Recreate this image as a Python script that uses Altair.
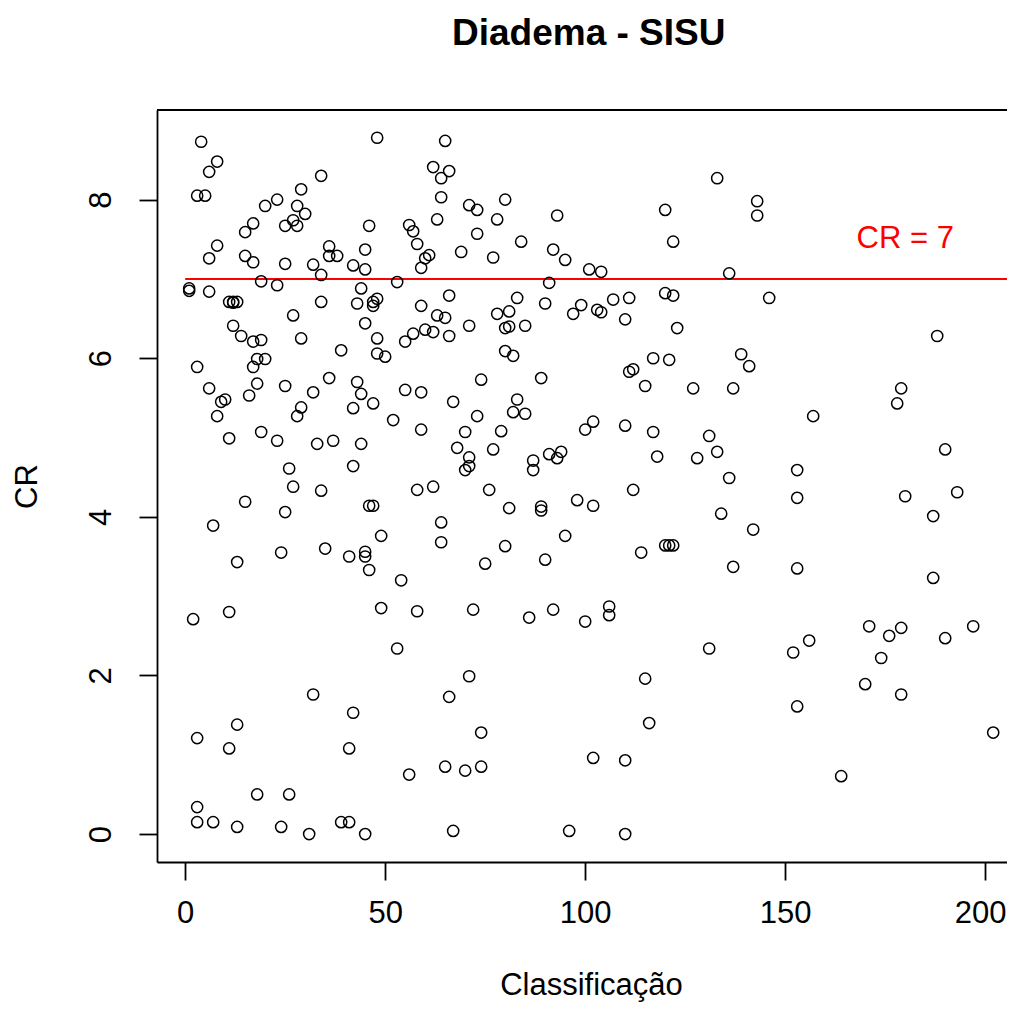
import altair as alt
import pandas as pd

# Classificação (x) and CR (y) values, grouped by region
x_a = [4, 8, 6, 34, 3, 5, 29, 23, 20, 28, 30, 27, 28, 25, 17, 15, 8, 6, 15, 17, 25, 36, 36, 38, 32, 34, 42, 45, 45, 46,
       1, 1, 6, 19, 23, 44, 11, 12, 12, 13, 34, 43, 27, 45, 12, 14, 17, 19, 29, 39, 18, 20, 3, 17]
y_a = [8.73, 8.48, 8.35, 8.30, 8.05, 8.05, 8.13, 8.00, 7.92, 7.92, 7.82, 7.74, 7.67, 7.67, 7.70, 7.59, 7.42, 7.26, 7.29,
       7.21, 7.19, 7.41, 7.29, 7.29, 7.18, 7.05, 7.17, 7.37, 7.12, 7.67, 6.85, 6.88, 6.84, 6.97, 6.92, 6.88, 6.71, 6.71,
       6.70, 6.71, 6.71, 6.69, 6.54, 6.44, 6.41, 6.28, 6.21, 6.23, 6.25, 6.10, 5.99, 5.99, 5.89, 5.89]

x_b = [6, 18, 16, 25, 32, 36, 43, 44, 42, 9, 10, 8, 29, 28, 11, 19, 23, 33, 37, 44, 26, 42, 27, 34, 15, 25, 7, 24, 35,
       41, 45, 45, 46, 13, 2, 11]
y_b = [5.62, 5.68, 5.53, 5.65, 5.57, 5.75, 5.70, 5.55, 5.37, 5.45, 5.48, 5.27, 5.38, 5.27, 4.99, 5.07, 4.96, 4.92, 4.96,
       4.92, 4.61, 4.64, 4.38, 4.33, 4.19, 4.06, 3.89, 3.55, 3.60, 3.50, 3.56, 3.50, 3.33, 3.43, 2.71, 2.80]

x_c = [32, 42, 13, 3, 11, 41, 18, 26, 3, 3, 7, 13, 24, 31, 39, 41, 45]
y_c = [1.76, 1.53, 1.38, 1.21, 1.08, 1.08, 0.50, 0.50, 0.34, 0.15, 0.15, 0.09, 0.09, 0.00, 0.15, 0.15, 0.00]

x_d = [48, 65, 62, 66, 64, 64, 80, 71, 73, 93, 63, 78, 56, 57, 58, 73, 84, 69, 61, 60, 59, 77, 92, 95, 53, 91, 47, 48,
       47, 66, 59, 63, 65, 83, 81, 78, 90, 97, 48, 60, 62, 57, 55, 66, 71, 81, 80, 85, 48, 50, 80, 82]
y_d = [8.78, 8.74, 8.41, 8.36, 8.27, 8.03, 8.00, 7.93, 7.87, 7.80, 7.75, 7.75, 7.68, 7.60, 7.44, 7.57, 7.47, 7.34, 7.30,
       7.26, 7.14, 7.27, 7.37, 7.24, 6.96, 6.95, 6.71, 6.75, 6.66, 6.79, 6.66, 6.54, 6.51, 6.76, 6.59, 6.56, 6.69, 6.56,
       6.25, 6.36, 6.33, 6.31, 6.21, 6.28, 6.41, 6.40, 6.38, 6.41, 6.06, 6.02, 6.09, 6.03]

x_e = [47, 55, 59, 52, 59, 67, 74, 73, 70, 68, 71, 71, 70, 89, 83, 82, 85, 79, 77, 87, 87, 91, 94, 93, 58, 62, 76, 46,
       47, 81, 89, 89, 64, 49, 64, 80, 75, 95, 90, 54, 49, 58, 72, 86, 92]
y_e = [5.43, 5.60, 5.57, 5.22, 5.10, 5.45, 5.73, 5.27, 5.07, 4.87, 4.75, 4.64, 4.59, 5.75, 5.48, 5.32, 5.30, 5.08, 4.85,
       4.71, 4.59, 4.79, 4.82, 4.74, 4.34, 4.38, 4.34, 4.14, 4.14, 4.11, 4.13, 4.08, 3.93, 3.76, 3.68, 3.63, 3.41, 3.76,
       3.46, 3.20, 2.85, 2.81, 2.83, 2.73, 2.83]

x_f = [53, 71, 66, 74, 56, 65, 70, 74, 67, 96]
y_f = [2.34, 1.99, 1.73, 1.28, 0.75, 0.85, 0.80, 0.85, 0.04, 0.04]

x_g = [133, 143, 143, 120, 122, 101, 104, 136, 120, 122, 146, 99, 103, 104, 107, 111, 110, 123, 117, 121, 139, 141]
y_g = [8.27, 7.98, 7.80, 7.87, 7.47, 7.12, 7.09, 7.07, 6.82, 6.79, 6.76, 6.67, 6.61, 6.58, 6.74, 6.76, 6.49, 6.38, 6.00,
       5.98, 6.05, 5.90]

x_h = [111, 112, 115, 127, 137, 102, 100, 110, 117, 131, 133, 128, 118, 136, 112, 98, 102, 134, 142, 114, 120, 121, 122,
       137, 106, 106, 100]
y_h = [5.83, 5.86, 5.65, 5.62, 5.62, 5.20, 5.10, 5.15, 5.07, 5.02, 4.82, 4.74, 4.76, 4.49, 4.34, 4.21, 4.14, 4.04, 3.84,
       3.55, 3.64, 3.64, 3.64, 3.37, 2.87, 2.76, 2.68]

x_i = [131, 115, 116, 102, 110, 110]
y_i = [2.34, 1.96, 1.40, 0.96, 0.93, 0.00]

x_j = [188, 179, 178, 157, 190, 153, 153, 193, 180, 187, 153, 187, 156, 152, 171, 176, 179, 190, 197, 174, 170, 179, 153,
       202, 164]
y_j = [6.28, 5.62, 5.43, 5.27, 4.85, 4.59, 4.24, 4.31, 4.26, 4.01, 3.35, 3.23, 2.44, 2.29, 2.62, 2.50, 2.60, 2.47, 2.62,
       2.22, 1.89, 1.76, 1.61, 1.28, 0.73]

x_ticks = [0, 50, 100, 150, 200]
y_ticks = [0, 2, 4, 6, 8]
cutoff = 7
cutoff_label = "CR = 7"
label_pos = (180, 7.5)

classificacao = x_a + x_b + x_c + x_d + x_e + x_f + x_g + x_h + x_i + x_j
cr = y_a + y_b + y_c + y_d + y_e + y_f + y_g + y_h + y_i + y_j

df = pd.DataFrame({"Classificacao": classificacao, "CR": cr})

X_DOMAIN = [-7.04, 205.45]
Y_DOMAIN = [-0.352, 9.13]
W, H = 850, 752
FONT = "Liberation Sans"
FS = 31

xscale = alt.Scale(domain=X_DOMAIN, nice=False, zero=False)
yscale = alt.Scale(domain=Y_DOMAIN, nice=False, zero=False)

xaxis = alt.Axis(values=x_ticks, format="d", title="Classificação", grid=False,
                 labelFont=FONT, labelFontSize=FS, labelColor="black", labelPadding=33,
                 labelBaseline="middle", labelFlush=False, labelOverlap=False,
                 labelOffset={"condition": {"test": "datum.value == 200", "value": -5}, "value": 0},
                 tickColor="black", tickSize=18, tickWidth=1.8,
                 domainColor="black", domainWidth=1.8,
                 titleFont=FONT, titleFontSize=FS, titleFontWeight="normal", titleColor="black",
                 titleX=434, titleY=132, titleBaseline="alphabetic", titleAlign="center")
yaxis = alt.Axis(values=y_ticks, format="d", title="CR", grid=False,
                 labelFont=FONT, labelFontSize=FS, labelColor="black", labelPadding=38,
                 labelAngle=270, labelAlign="center", labelBaseline="middle",
                 labelFlush=False, labelOverlap=False,
                 tickColor="black", tickSize=18, tickWidth=1.8,
                 domainColor="black", domainWidth=1.8,
                 titleFont=FONT, titleFontSize=FS, titleFontWeight="normal", titleColor="black",
                 titleAngle=270, titleX=-130, titleY=376, titleBaseline="middle", titleAlign="center")

X = alt.X("Classificacao:Q", scale=xscale, axis=xaxis)
Y = alt.Y("CR:Q", scale=yscale, axis=yaxis)

points = alt.Chart(df).mark_point(shape="circle", filled=False, color="black", size=125,
                                  strokeWidth=1.5, opacity=1).encode(x=X, y=Y)

line_df = pd.DataFrame({"Classificacao": [0], "Classificacao_end": [X_DOMAIN[1]], "CR": [cutoff]})
redline = alt.Chart(line_df).mark_rule(color="#FF0000", strokeWidth=2).encode(
    x=X, x2="Classificacao_end:Q", y=Y)

text_df = pd.DataFrame({"Classificacao": [label_pos[0]], "CR": [label_pos[1]], "label": [cutoff_label]})
label = alt.Chart(text_df).mark_text(color="#FF0000", font=FONT, fontSize=FS, align="center",
                                     baseline="middle").encode(x=X, y=Y, text="label:N")

top_border = alt.Chart(pd.DataFrame({"a": [0]})).mark_rule(color="black", strokeWidth=1.8).encode(
    x=alt.value(0), x2=alt.value(W), y=alt.value(0))

chart = alt.layer(redline, points, label, top_border).properties(
    width=W, height=H,
    title=alt.TitleParams("Diadema - SISU", font=FONT, fontSize=37, fontWeight="bold", color="black",
                          anchor="start", frame="group", dx=295, offset=38, baseline="middle"),
    autosize=alt.AutoSizeParams(type="none"),
    padding={"left": 149, "top": 102, "right": 0, "bottom": 140},
).configure_view(stroke=None).configure(background="white")

chart.save("out.html", embed_options={"renderer": "svg", "actions": False})
